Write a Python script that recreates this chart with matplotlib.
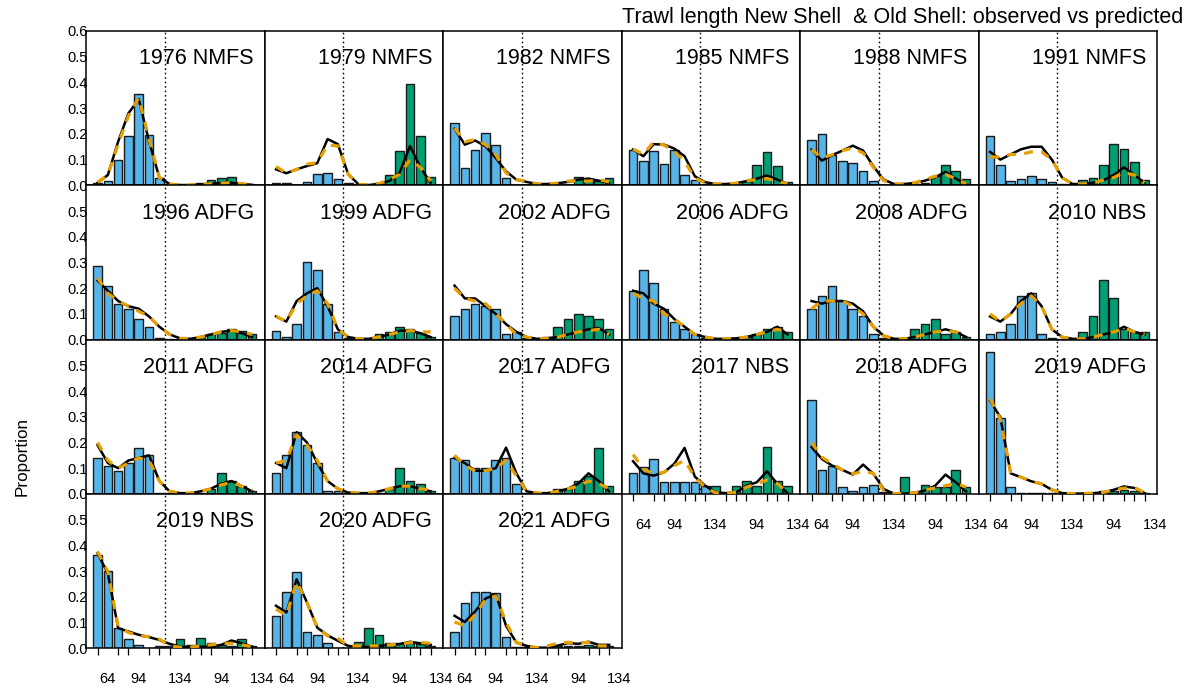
import matplotlib
matplotlib.use("Agg")
import matplotlib.pyplot as plt
import numpy as np

plt.rcParams['font.family'] = ['Liberation Sans', 'DejaVu Sans']

titles = ["1976 NMFS", "1979 NMFS", "1982 NMFS", "1985 NMFS", "1988 NMFS", "1991 NMFS",
          "1996 ADFG", "1999 ADFG", "2002 ADFG", "2006 ADFG", "2008 ADFG", "2010 NBS",
          "2011 ADFG", "2014 ADFG", "2017 ADFG", "2017 NBS", "2018 ADFG", "2019 ADFG",
          "2019 NBS", "2020 ADFG", "2021 ADFG"]

# observed proportions: 8 new-shell bins then 8 old-shell bins
obs = [
    [0.008, 0.016, 0.10, 0.19, 0.355, 0.195, 0.027, 0.005, 0.002, 0.003, 0.01, 0.02, 0.027, 0.032, 0.003, 0.003],
    [0.01, 0.01, 0.003, 0.014, 0.043, 0.048, 0.026, 0.008, 0.002, 0.002, 0.01, 0.04, 0.134, 0.395, 0.19, 0.032],
    [0.243, 0.067, 0.139, 0.204, 0.156, 0.029, 0.003, 0.003, 0.002, 0.002, 0.002, 0.002, 0.034, 0.015, 0.018, 0.029],
    [0.139, 0.096, 0.135, 0.084, 0.139, 0.041, 0.019, 0.002, 0.002, 0.002, 0.002, 0.016, 0.077, 0.128, 0.074, 0.013],
    [0.175, 0.20, 0.119, 0.096, 0.087, 0.057, 0.018, 0.002, 0.002, 0.002, 0.002, 0.009, 0.035, 0.08, 0.057, 0.026],
    [0.19, 0.08, 0.015, 0.025, 0.035, 0.025, 0.012, 0.004, 0.002, 0.02, 0.03, 0.08, 0.16, 0.14, 0.09, 0.02],
    [0.285, 0.21, 0.14, 0.12, 0.08, 0.05, 0.005, 0.003, 0.002, 0.002, 0.01, 0.02, 0.025, 0.04, 0.035, 0.02],
    [0.035, 0.01, 0.06, 0.30, 0.27, 0.14, 0.03, 0.005, 0.002, 0.002, 0.02, 0.03, 0.05, 0.04, 0.025, 0.01],
    [0.09, 0.12, 0.14, 0.13, 0.12, 0.02, 0.03, 0.005, 0.003, 0.01, 0.05, 0.08, 0.10, 0.09, 0.08, 0.04],
    [0.19, 0.27, 0.22, 0.12, 0.07, 0.04, 0.02, 0.005, 0.003, 0.003, 0.003, 0.01, 0.02, 0.04, 0.05, 0.03],
    [0.12, 0.17, 0.21, 0.15, 0.12, 0.09, 0.02, 0.005, 0.003, 0.003, 0.04, 0.06, 0.08, 0.02, 0.03, 0.01],
    [0.02, 0.03, 0.06, 0.17, 0.18, 0.02, 0.005, 0.002, 0.002, 0.03, 0.09, 0.23, 0.16, 0.04, 0.03, 0.03],
    [0.14, 0.11, 0.09, 0.12, 0.18, 0.15, 0.005, 0.003, 0.002, 0.002, 0.005, 0.02, 0.08, 0.05, 0.03, 0.01],
    [0.08, 0.15, 0.24, 0.19, 0.12, 0.01, 0.01, 0.005, 0.002, 0.002, 0.005, 0.02, 0.10, 0.05, 0.04, 0.01],
    [0.14, 0.13, 0.10, 0.10, 0.13, 0.14, 0.04, 0.003, 0.002, 0.002, 0.02, 0.02, 0.05, 0.07, 0.18, 0.03],
    [0.08, 0.104, 0.136, 0.045, 0.045, 0.045, 0.045, 0.032, 0.032, 0.002, 0.032, 0.05, 0.032, 0.184, 0.05, 0.032],
    [0.366, 0.091, 0.11, 0.026, 0.01, 0.026, 0.036, 0.009, 0.002, 0.065, 0.006, 0.036, 0.026, 0.026, 0.091, 0.026],
    [0.551, 0.294, 0.026, 0.002, 0.002, 0.002, 0.002, 0.002, 0.003, 0.003, 0.005, 0.01, 0.01, 0.015, 0.012, 0.005],
    [0.363, 0.302, 0.078, 0.035, 0.013, 0.002, 0.009, 0.009, 0.035, 0.013, 0.039, 0.019, 0.013, 0.01, 0.035, 0.009],
    [0.126, 0.217, 0.298, 0.064, 0.053, 0.019, 0.002, 0.002, 0.026, 0.08, 0.053, 0.019, 0.019, 0.019, 0.016, 0.009],
    [0.064, 0.174, 0.22, 0.22, 0.216, 0.042, 0.003, 0.003, 0.002, 0.002, 0.009, 0.009, 0.009, 0.013, 0.009, 0.009],
]

# predicted (black solid line)
pred_black = [
    [0.01, 0.04, 0.17, 0.28, 0.335, 0.17, 0.03, 0.005, 0.001, 0.001, 0.003, 0.006, 0.009, 0.01, 0.005, 0.002],
    [0.062, 0.047, 0.062, 0.075, 0.086, 0.18, 0.16, 0.043, 0.004, 0.001, 0.006, 0.017, 0.05, 0.153, 0.07, 0.01],
    [0.22, 0.158, 0.174, 0.152, 0.106, 0.054, 0.022, 0.013, 0.005, 0.005, 0.008, 0.013, 0.022, 0.026, 0.018, 0.009],
    [0.139, 0.113, 0.16, 0.158, 0.143, 0.113, 0.035, 0.012, 0.005, 0.005, 0.008, 0.016, 0.026, 0.038, 0.022, 0.005],
    [0.139, 0.096, 0.117, 0.135, 0.154, 0.135, 0.074, 0.022, 0.005, 0.005, 0.009, 0.018, 0.031, 0.052, 0.026, 0.003],
    [0.13, 0.10, 0.12, 0.14, 0.15, 0.15, 0.10, 0.03, 0.005, 0.005, 0.01, 0.02, 0.04, 0.07, 0.04, 0.01],
    [0.23, 0.19, 0.15, 0.13, 0.12, 0.09, 0.05, 0.02, 0.005, 0.003, 0.01, 0.02, 0.03, 0.035, 0.025, 0.01],
    [0.09, 0.07, 0.15, 0.18, 0.20, 0.13, 0.04, 0.01, 0.003, 0.003, 0.01, 0.02, 0.035, 0.035, 0.025, 0.01],
    [0.21, 0.16, 0.16, 0.13, 0.10, 0.06, 0.03, 0.01, 0.003, 0.005, 0.01, 0.02, 0.03, 0.04, 0.045, 0.02],
    [0.19, 0.18, 0.14, 0.12, 0.08, 0.05, 0.02, 0.01, 0.003, 0.003, 0.005, 0.01, 0.02, 0.03, 0.05, 0.02],
    [0.15, 0.14, 0.15, 0.15, 0.14, 0.11, 0.05, 0.015, 0.003, 0.003, 0.01, 0.02, 0.03, 0.04, 0.03, 0.01],
    [0.09, 0.07, 0.10, 0.15, 0.18, 0.13, 0.04, 0.01, 0.003, 0.003, 0.01, 0.02, 0.03, 0.05, 0.03, 0.02],
    [0.19, 0.12, 0.10, 0.13, 0.14, 0.15, 0.05, 0.01, 0.003, 0.003, 0.01, 0.02, 0.04, 0.05, 0.03, 0.01],
    [0.12, 0.10, 0.24, 0.20, 0.12, 0.05, 0.02, 0.005, 0.003, 0.003, 0.01, 0.02, 0.03, 0.03, 0.02, 0.01],
    [0.14, 0.12, 0.09, 0.09, 0.10, 0.18, 0.08, 0.01, 0.003, 0.003, 0.01, 0.02, 0.04, 0.08, 0.05, 0.01],
    [0.127, 0.08, 0.071, 0.084, 0.117, 0.179, 0.067, 0.032, 0.006, 0.003, 0.006, 0.032, 0.045, 0.088, 0.039, 0.003],
    [0.182, 0.136, 0.11, 0.093, 0.075, 0.114, 0.078, 0.019, 0.001, 0.001, 0.004, 0.013, 0.032, 0.075, 0.045, 0.01],
    [0.363, 0.298, 0.08, 0.065, 0.049, 0.039, 0.016, 0.003, 0.001, 0.001, 0.003, 0.006, 0.016, 0.029, 0.023, 0.003],
    [0.37, 0.29, 0.078, 0.065, 0.052, 0.043, 0.032, 0.017, 0.006, 0.003, 0.006, 0.006, 0.013, 0.03, 0.019, 0.006],
    [0.165, 0.139, 0.268, 0.178, 0.08, 0.05, 0.029, 0.009, 0.005, 0.005, 0.009, 0.013, 0.016, 0.025, 0.019, 0.013],
    [0.126, 0.102, 0.143, 0.193, 0.21, 0.087, 0.022, 0.009, 0.002, 0.002, 0.01, 0.02, 0.017, 0.025, 0.013, 0.013],
]

# predicted (orange dashed line)
pred_orange = [
    [0.012, 0.04, 0.16, 0.27, 0.34, 0.18, 0.03, 0.005, 0.001, 0.001, 0.003, 0.006, 0.008, 0.01, 0.006, 0.002],
    [0.073, 0.047, 0.062, 0.082, 0.088, 0.157, 0.153, 0.043, 0.004, 0.001, 0.006, 0.023, 0.043, 0.10, 0.07, 0.017],
    [0.223, 0.169, 0.178, 0.158, 0.119, 0.048, 0.022, 0.016, 0.005, 0.005, 0.008, 0.016, 0.018, 0.016, 0.022, 0.013],
    [0.141, 0.12, 0.169, 0.156, 0.132, 0.093, 0.029, 0.009, 0.005, 0.005, 0.008, 0.018, 0.022, 0.026, 0.016, 0.005],
    [0.139, 0.106, 0.119, 0.135, 0.145, 0.126, 0.07, 0.018, 0.005, 0.005, 0.01, 0.022, 0.035, 0.042, 0.026, 0.005],
    [0.11, 0.11, 0.12, 0.12, 0.13, 0.13, 0.10, 0.03, 0.005, 0.005, 0.01, 0.02, 0.03, 0.05, 0.04, 0.01],
    [0.24, 0.18, 0.15, 0.13, 0.11, 0.09, 0.05, 0.02, 0.005, 0.003, 0.01, 0.02, 0.03, 0.035, 0.03, 0.02],
    [0.09, 0.07, 0.14, 0.17, 0.19, 0.14, 0.04, 0.01, 0.003, 0.003, 0.01, 0.02, 0.03, 0.035, 0.03, 0.03],
    [0.20, 0.16, 0.15, 0.14, 0.10, 0.06, 0.02, 0.01, 0.003, 0.005, 0.01, 0.02, 0.03, 0.035, 0.04, 0.02],
    [0.18, 0.16, 0.15, 0.10, 0.08, 0.05, 0.02, 0.01, 0.003, 0.003, 0.005, 0.01, 0.02, 0.03, 0.04, 0.03],
    [0.12, 0.15, 0.15, 0.15, 0.13, 0.10, 0.05, 0.015, 0.003, 0.003, 0.01, 0.02, 0.03, 0.035, 0.03, 0.015],
    [0.10, 0.07, 0.10, 0.14, 0.17, 0.13, 0.04, 0.01, 0.003, 0.003, 0.01, 0.02, 0.03, 0.045, 0.03, 0.02],
    [0.20, 0.13, 0.10, 0.12, 0.14, 0.13, 0.05, 0.01, 0.003, 0.003, 0.01, 0.02, 0.035, 0.045, 0.03, 0.015],
    [0.12, 0.13, 0.23, 0.19, 0.13, 0.05, 0.02, 0.005, 0.003, 0.003, 0.01, 0.02, 0.03, 0.03, 0.02, 0.015],
    [0.15, 0.11, 0.09, 0.09, 0.10, 0.13, 0.07, 0.01, 0.003, 0.003, 0.01, 0.02, 0.03, 0.05, 0.04, 0.02],
    [0.153, 0.097, 0.078, 0.084, 0.11, 0.13, 0.065, 0.026, 0.004, 0.003, 0.006, 0.026, 0.039, 0.054, 0.04, 0.003],
    [0.20, 0.143, 0.117, 0.093, 0.078, 0.088, 0.08, 0.013, 0.001, 0.001, 0.004, 0.016, 0.023, 0.032, 0.041, 0.026],
    [0.37, 0.29, 0.08, 0.065, 0.049, 0.039, 0.016, 0.003, 0.001, 0.001, 0.003, 0.006, 0.016, 0.022, 0.025, 0.005],
    [0.376, 0.298, 0.084, 0.061, 0.048, 0.045, 0.035, 0.009, 0.004, 0.004, 0.009, 0.013, 0.019, 0.019, 0.013, 0.006],
    [0.152, 0.128, 0.258, 0.178, 0.08, 0.048, 0.038, 0.009, 0.009, 0.009, 0.009, 0.013, 0.016, 0.022, 0.022, 0.019],
    [0.102, 0.087, 0.13, 0.19, 0.203, 0.10, 0.022, 0.009, 0.002, 0.009, 0.019, 0.023, 0.02, 0.023, 0.009, 0.009],
]

tick_label_pos = [2, 5, 9, 13, 17]
tick_label_text = ["64", "94", "134", "94", "134"]
y_ticks = [0.0, 0.1, 0.2, 0.3, 0.4, 0.5, 0.6]

W, H = 1191, 688
fig = plt.figure(figsize=(W / 100, H / 100), dpi=100)

left0, top0 = 86.0, 31.0
pw, ph = 178.5, 154.3
ncol = 6
nbins = 16
x = np.arange(1, nbins + 1)
blue = "#56B4E9"
green = "#009E73"
orange = "#E69F00"

for i, t in enumerate(titles):
    r, c = divmod(i, ncol)
    lx = left0 + c * pw
    ty = top0 + r * ph
    ax = fig.add_axes([lx / W, 1 - (ty + ph) / H, pw / W, ph / H])
    cols = [blue] * 8 + [green] * 8
    ax.bar(x, obs[i], width=0.84, color=cols, edgecolor="#1a1a1a", linewidth=1.0, zorder=2)
    ax.axvline(7.5, color="black", linestyle=(0, (1.2, 2.0)), linewidth=1.0, zorder=1)
    ax.plot(x, pred_black[i], color="black", linewidth=1.8, zorder=3)
    ax.plot(x, pred_orange[i], color=orange, linewidth=2.3, linestyle=(0, (2.8, 2.6)), zorder=4)
    ax.set_xlim(-0.12, 17.2)
    ax.set_ylim(0, 0.6)
    for s in ax.spines.values():
        s.set_linewidth(1.1)
    ax.text(0.94, 0.82, t, transform=ax.transAxes, ha="right", va="center", fontsize=15.5)
    # y axis
    if c == 0:
        yt = y_ticks if r == 0 else y_ticks[:-1]
        ax.set_yticks(yt)
        ax.set_yticklabels(["%.1f" % v for v in yt], fontsize=10.5)
        ax.tick_params(axis="y", length=0, pad=-1)
    else:
        ax.set_yticks([])
    # x axis
    bottom_panel = (i + ncol >= len(titles))
    if bottom_panel:
        ax.set_xticks(x, minor=True)
        ax.set_xticks(tick_label_pos)
        ax.set_xticklabels(tick_label_text, fontsize=10.5)
        ax.tick_params(axis="x", which="minor", length=5, width=0.9, direction="out")
        ax.tick_params(axis="x", which="major", length=0, pad=17)
    else:
        ax.set_xticks([])

fig.text(1183 / W, 1 - 18 / H, "Trawl length New Shell  & Old Shell: observed vs predicted",
         ha="right", va="center", fontsize=15.5)
fig.text(22 / W, 1 - 457 / H, "Proportion", rotation=90, ha="center", va="center", fontsize=12.3)

fig.savefig("out.png", dpi=100)
